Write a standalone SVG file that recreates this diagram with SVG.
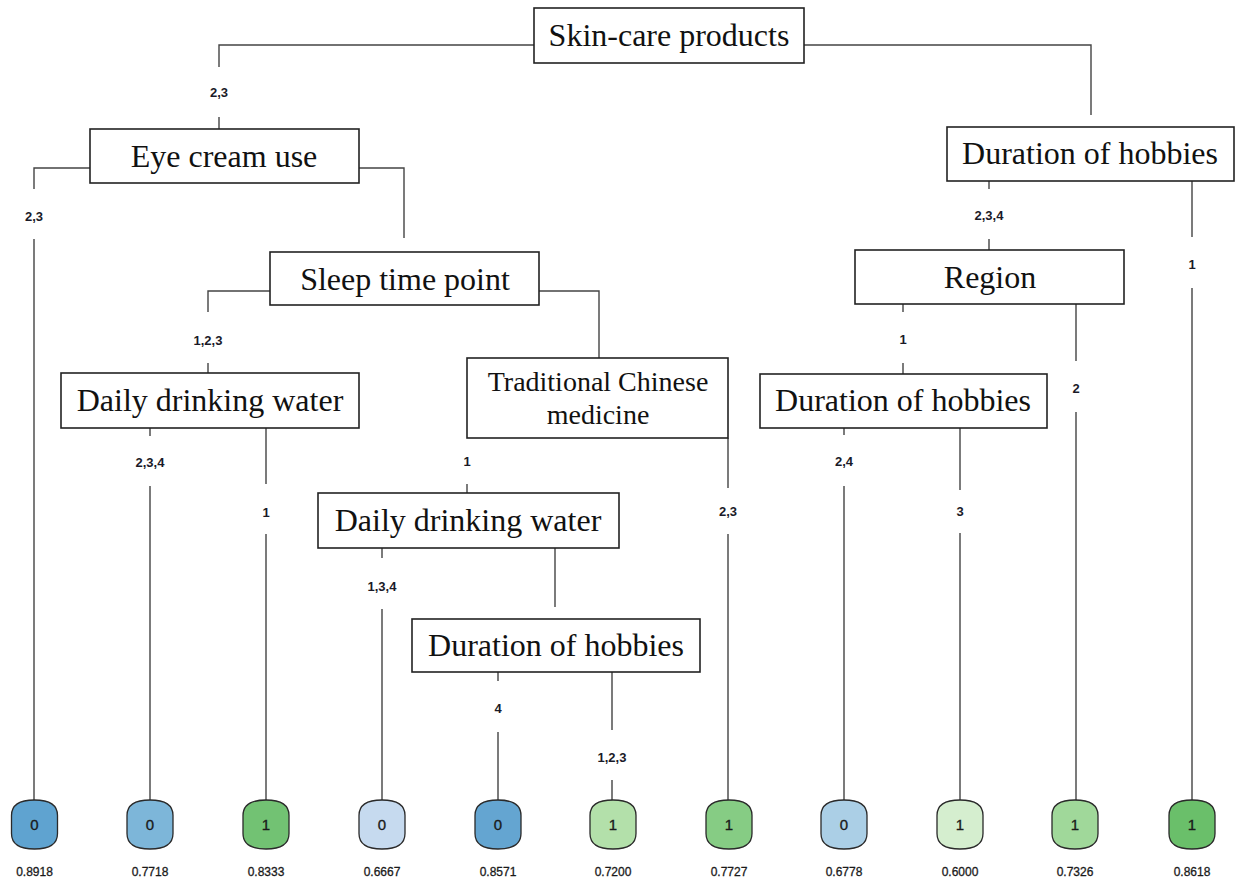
<svg xmlns="http://www.w3.org/2000/svg" xmlns:xlink="http://www.w3.org/1999/xlink" width="1235" height="884" viewBox="0 0 1235 884">
<style>
.box{fill:#fff;stroke:#222;stroke-width:1.6}
.nt{font-family:"Liberation Serif","Times New Roman",serif;font-size:32px;fill:#111;text-anchor:middle}
.nt2{font-family:"Liberation Serif","Times New Roman",serif;font-size:28px;fill:#111;text-anchor:middle}
.ln{fill:none;stroke:#444;stroke-width:1.4}
.el{font-family:"Liberation Sans",Arial,sans-serif;font-size:13px;font-weight:bold;fill:#1a1a28;text-anchor:middle}
.lf{stroke:#2a2a2a;stroke-width:1.3}
.lt{font-family:"Liberation Sans",Arial,sans-serif;font-size:15px;fill:#1a1a1a;stroke:#1a1a1a;stroke-width:0.35;text-anchor:middle}
.vt{font-family:"Liberation Sans",Arial,sans-serif;font-size:12px;fill:#1a1a1a;stroke:#1a1a1a;stroke-width:0.3;text-anchor:middle}
</style>
<defs>
<path id="leaf" d="M -23,-9 Q -23,-24.5 0,-24.5 Q 23,-24.5 23,-9 L 23,9 Q 23,24.5 0,24.5 Q -23,24.5 -23,9 Z"/>
</defs>
<rect width="1235" height="884" fill="#fff"/>
<g id="connectors">
<path class="ln" d="M534,45 H219 V67 M219,117 V130"/>
<path class="ln" d="M804,45 H1091 V115"/>
<path class="ln" d="M90,168 H34 V189 M34,239 V800"/>
<path class="ln" d="M359,168 H404 V238"/>
<path class="ln" d="M270,291 H208 V312 M208,363 V373"/>
<path class="ln" d="M539,291 H599 V358"/>
<path class="ln" d="M150,428 V436 M150,486 V800"/>
<path class="ln" d="M266,428 V484 M266,534 V800"/>
<path class="ln" d="M467,484 V493"/>
<path class="ln" d="M728,438 V488 M728,534 V800"/>
<path class="ln" d="M382,548 V558 M382,609 V800"/>
<path class="ln" d="M555,548 V607"/>
<path class="ln" d="M498,672 V681 M498,732 V800"/>
<path class="ln" d="M612,672 V730 M612,780 V800"/>
<path class="ln" d="M989,181 V189 M989,239 V250"/>
<path class="ln" d="M1192,181 V237 M1192,288 V800"/>
<path class="ln" d="M903,304 V312 M903,363 V374"/>
<path class="ln" d="M1076,304 V361 M1076,412 V800"/>
<path class="ln" d="M844,428 V435 M844,486 V800"/>
<path class="ln" d="M960,428 V490 M960,533 V800"/>
<text class="el" x="219" y="97">2,3</text>
<text class="el" x="34" y="221">2,3</text>
<text class="el" x="208" y="345">1,2,3</text>
<text class="el" x="150" y="467">2,3,4</text>
<text class="el" x="266" y="517">1</text>
<text class="el" x="467" y="466">1</text>
<text class="el" x="728" y="516">2,3</text>
<text class="el" x="382" y="591">1,3,4</text>
<text class="el" x="498" y="713">4</text>
<text class="el" x="612" y="762">1,2,3</text>
<text class="el" x="989" y="220">2,3,4</text>
<text class="el" x="1192" y="269">1</text>
<text class="el" x="903" y="344">1</text>
<text class="el" x="1076" y="393">2</text>
<text class="el" x="844" y="466">2,4</text>
<text class="el" x="960" y="516">3</text>
</g>
<g id="n-skincare"><rect class="box" x="534" y="8" width="270" height="55"/><text class="nt" x="669" y="46">Skin-care products</text></g>
<g id="n-eyecream"><rect class="box" x="90" y="129" width="269" height="54"/><text class="nt" x="224" y="167">Eye cream use</text></g>
<g id="n-sleep"><rect class="box" x="270" y="252" width="269" height="53"/><text class="nt" x="405" y="290">Sleep time point</text></g>
<g id="n-water1"><rect class="box" x="61" y="373" width="298" height="55"/><text class="nt" x="210" y="411">Daily drinking water</text></g>
<g id="n-tcm"><rect class="box" x="467" y="358" width="261" height="80"/><text class="nt2" x="598" y="391">Traditional Chinese</text><text class="nt2" x="598" y="424">medicine</text></g>
<g id="n-water2"><rect class="box" x="318" y="493" width="301" height="55"/><text class="nt" x="468" y="531">Daily drinking water</text></g>
<g id="n-hobbies3"><rect class="box" x="412" y="619" width="288" height="53"/><text class="nt" x="556" y="656">Duration of hobbies</text></g>
<g id="n-hobbies1"><rect class="box" x="947" y="127" width="287" height="54"/><text class="nt" x="1090" y="164">Duration of hobbies</text></g>
<g id="n-region"><rect class="box" x="855" y="250" width="269" height="54"/><text class="nt" x="990" y="288">Region</text></g>
<g id="n-hobbies2"><rect class="box" x="760" y="374" width="287" height="54"/><text class="nt" x="903" y="411">Duration of hobbies</text></g>
<g id="leaf1"><use href="#leaf" x="34.5" y="824.5" class="lf" fill="#5fa3d0"/><text class="lt" x="34.5" y="830">0</text><text class="vt" x="34.5" y="876">0.8918</text></g>
<g id="leaf2"><use href="#leaf" x="150" y="824.5" class="lf" fill="#7db6d9"/><text class="lt" x="150" y="830">0</text><text class="vt" x="150" y="876">0.7718</text></g>
<g id="leaf3"><use href="#leaf" x="266" y="824.5" class="lf" fill="#72c273"/><text class="lt" x="266" y="830">1</text><text class="vt" x="266" y="876">0.8333</text></g>
<g id="leaf4"><use href="#leaf" x="382" y="824.5" class="lf" fill="#c6daef"/><text class="lt" x="382" y="830">0</text><text class="vt" x="382" y="876">0.6667</text></g>
<g id="leaf5"><use href="#leaf" x="498" y="824.5" class="lf" fill="#64a5d1"/><text class="lt" x="498" y="830">0</text><text class="vt" x="498" y="876">0.8571</text></g>
<g id="leaf6"><use href="#leaf" x="613" y="824.5" class="lf" fill="#b3e0aa"/><text class="lt" x="613" y="830">1</text><text class="vt" x="613" y="876">0.7200</text></g>
<g id="leaf7"><use href="#leaf" x="729" y="824.5" class="lf" fill="#86cc84"/><text class="lt" x="729" y="830">1</text><text class="vt" x="729" y="876">0.7727</text></g>
<g id="leaf8"><use href="#leaf" x="844" y="824.5" class="lf" fill="#abcfe6"/><text class="lt" x="844" y="830">0</text><text class="vt" x="844" y="876">0.6778</text></g>
<g id="leaf9"><use href="#leaf" x="960" y="824.5" class="lf" fill="#d5eecf"/><text class="lt" x="960" y="830">1</text><text class="vt" x="960" y="876">0.6000</text></g>
<g id="leaf10"><use href="#leaf" x="1075" y="824.5" class="lf" fill="#a0d89a"/><text class="lt" x="1075" y="830">1</text><text class="vt" x="1075" y="876">0.7326</text></g>
<g id="leaf11"><use href="#leaf" x="1192" y="824.5" class="lf" fill="#6abf6a"/><text class="lt" x="1192" y="830">1</text><text class="vt" x="1192" y="876">0.8618</text></g>
</svg>
